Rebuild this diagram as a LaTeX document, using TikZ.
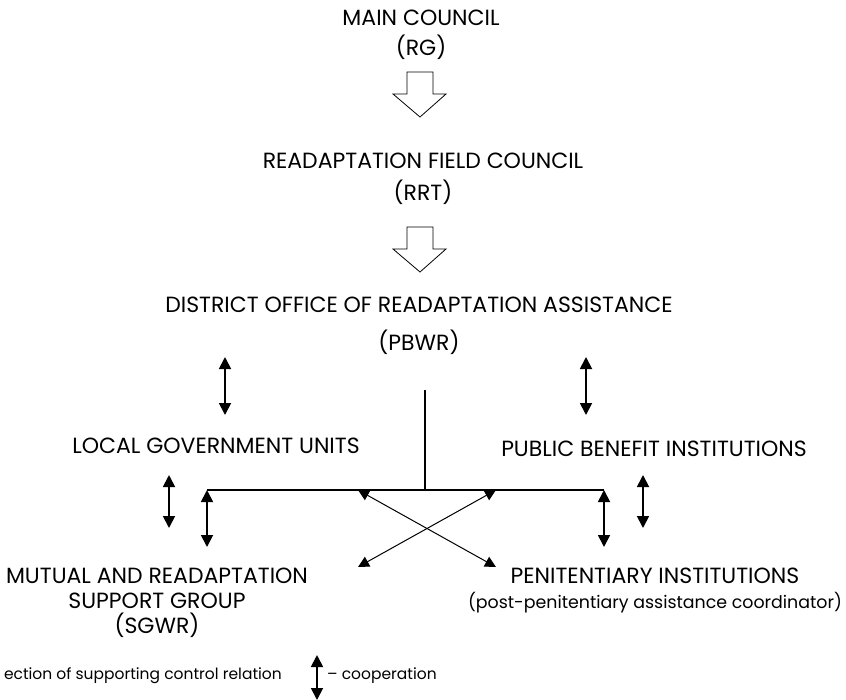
\documentclass[tikz,border=0pt]{standalone}
\usepackage{fontspec}
\setmainfont{Poppins}
\usetikzlibrary{arrows.meta}

\tikzset{
  openarrow/.pic={
    \draw[line width=0.8pt] (-13,0) -- (13,0) -- (13,22) -- (26,22) -- (0,45) -- (-27,22) -- (-13,22) -- cycle;
  }
}

\begin{document}
\begin{tikzpicture}[x=1pt,y=-1pt,
    lbl/.style={align=center,inner sep=0pt,anchor=base,font=\fontsize{22}{25}\selectfont},
    small/.style={inner sep=0pt,font=\fontsize{15.5}{18}\selectfont},
    coop/.style={{Triangle[length=12pt,width=12pt]}-{Triangle[length=12pt,width=12pt]},line width=1.8pt},
    link/.style={{Triangle[length=11pt,width=11pt]}-{Triangle[length=11pt,width=11pt]},line width=1pt},
    bar/.style={line width=1.8pt}]
\useasboundingbox (0,0) rectangle (846,699);

% hierarchy of councils
\node[lbl] (rg) at (421,55) {MAIN COUNCIL\\[5pt](RG)};
\pic at (420,72) {openarrow};
\node[lbl] (rrt) at (423,200) {READAPTATION FIELD COUNCIL\\[7pt](RRT)};
\pic at (420,227) {openarrow};
\node[lbl] (pbwr) at (419,350) {DISTRICT OFFICE OF READAPTATION ASSISTANCE\\[13pt](PBWR)};

% partner institutions
\node[lbl] (lgu) at (216,453) {LOCAL GOVERNMENT UNITS};
\node[lbl] (pbi) at (654,456) {PUBLIC BENEFIT INSTITUTIONS};
\node[lbl] (sgwr) at (157,633) {MUTUAL AND READAPTATION\\SUPPORT GROUP\\(SGWR)};
\node[lbl] (pi) at (655,608) {PENITENTIARY INSTITUTIONS\\{\fontsize{17.4}{25}\selectfont(post-penitentiary assistance coordinator)}};

% bar under the district office
\coordinate (stem) at (425,390);
\coordinate (bar-m) at (425,490);
\coordinate (bar-w) at (207,490);
\coordinate (bar-e) at (604,490);
\draw[bar] (stem) -- (bar-m);
\draw[bar] (bar-w) -- (bar-e);

% cooperation arrows
\coordinate (lgu-n) at (225,357);
\coordinate (lgu-s) at (225,415);
\coordinate (pbi-n) at (586,357);
\coordinate (pbi-s) at (586,415);
\coordinate (lgu-b1) at (169,475);
\coordinate (lgu-b2) at (169,528);
\coordinate (sgwr-n) at (207,547);
\coordinate (pi-n) at (604,547);
\coordinate (pbi-b1) at (643,475);
\coordinate (pbi-b2) at (643,528);
\draw[coop] (lgu-n) -- (lgu-s);
\draw[coop] (pbi-n) -- (pbi-s);
\draw[coop] (lgu-b1) -- (lgu-b2);
\draw[coop] (bar-w) -- (sgwr-n);
\draw[coop] (bar-e) -- (pi-n);
\draw[coop] (pbi-b1) -- (pbi-b2);

% crossing links
\coordinate (x-nw) at (358,490);
\coordinate (x-ne) at (496,490);
\coordinate (x-sw) at (358,567);
\coordinate (x-se) at (496,567);
\draw[link] (x-nw) -- (x-se);
\draw[link] (x-ne) -- (x-sw);

% legend
\node[small,anchor=base east] (leg1) at (282,679) {ection of supporting control relation};
\coordinate (leg-n) at (317,655);
\coordinate (leg-s) at (317,700);
\draw[coop] (leg-n) -- (leg-s);
\node[small,anchor=base west] (leg2) at (327,679) {– cooperation};
\end{tikzpicture}
\end{document}
